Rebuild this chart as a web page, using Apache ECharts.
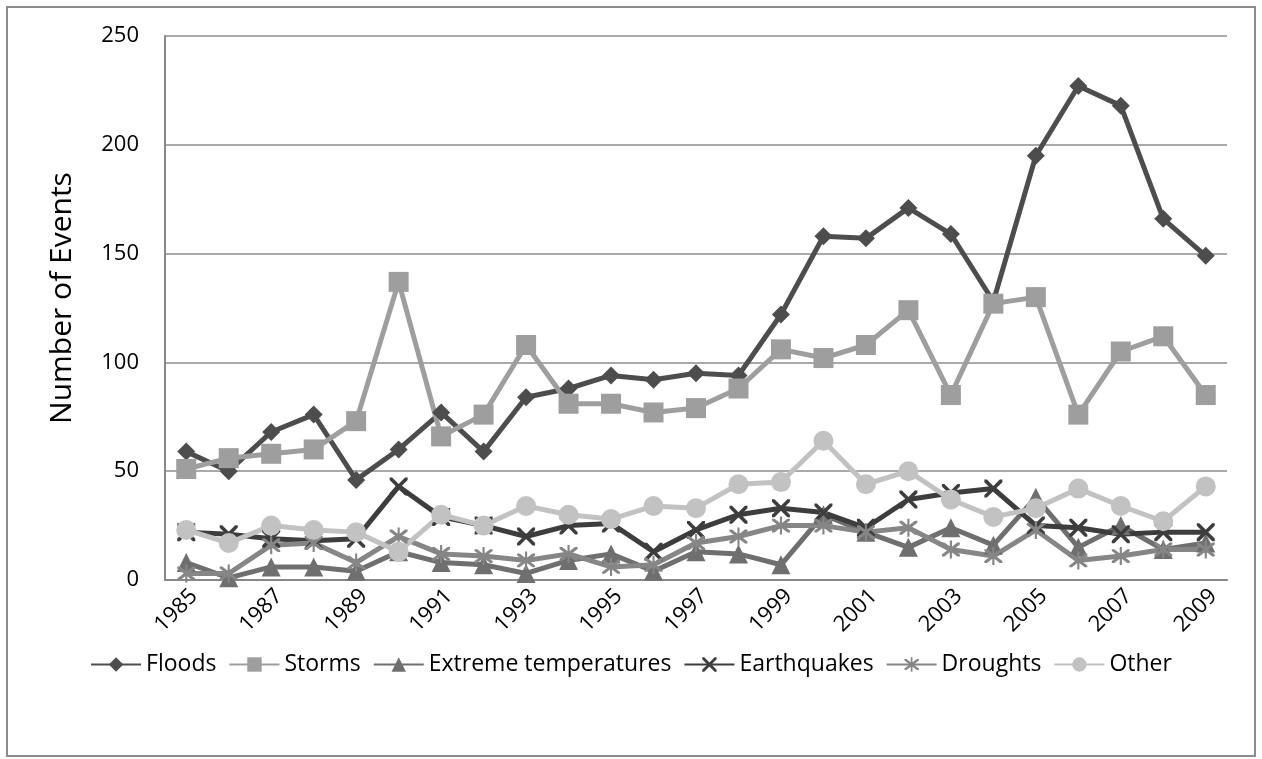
<!DOCTYPE html>
<html>
<head>
<meta charset="utf-8">
<script src="https://cdn.jsdelivr.net/npm/echarts@6/dist/echarts.min.js"></script>
<style>
  html, body { margin: 0; padding: 0; background: #fff; }
  #chart { width: 1262px; height: 759px; }
</style>
</head>
<body>
<div id="chart"></div>
<script>
const YEARS = ['1985','1986','1987','1988','1989','1990','1991','1992','1993','1994','1995','1996',
  '1997','1998','1999','2000','2001','2002','2003','2004','2005','2006','2007','2008','2009']

const FLOODS     = [59, 50, 68, 76, 46, 60, 77, 59, 84, 88, 94, 92, 95, 94, 122, 158, 157, 171, 159, 128, 195, 227, 218, 166, 149]
const STORMS     = [51, 56, 58, 60, 73, 137, 66, 76, 108, 81, 81, 77, 79, 88, 106, 102, 108, 124, 85, 127, 130, 76, 105, 112, 85]
const EXTREME    = [8, 1, 6, 6, 4, 13, 8, 7, 3, 9, 12, 4, 13, 12, 7, 30, 22, 15, 24, 16, 38, 15, 25, 14, 17]
const EARTHQUAKE = [22, 21, 19, 18, 19, 43, 29, 25, 20, 25, 26, 13, 23, 30, 33, 31, 24, 37, 40, 42, 25, 24, 21, 22, 22]
const DROUGHTS   = [3, 3, 16, 17, 8, 20, 12, 11, 9, 12, 6, 7, 17, 20, 25, 25, 22, 24, 14, 11, 23, 9, 11, 14, 14]
const OTHER      = [23, 17, 25, 23, 22, 13, 30, 25, 34, 30, 28, 34, 33, 44, 45, 64, 44, 50, 37, 29, 33, 42, 34, 27, 43]

const FONT = '"Open Sans", "Liberation Sans", sans-serif'

// filled outlines so the markers read as strokes
const X_PATH = 'path://M0,0 L1.4,0 L10,8.6 L10,10 L8.6,10 L0,1.4 Z M10,0 L10,1.4 L1.4,10 L0,10 L0,8.6 L8.6,0 Z'
const STAR_PATH = 'path://M0,0 L1.4,0 L10,8.6 L10,10 L8.6,10 L0,1.4 Z M10,0 L10,1.4 L1.4,10 L0,10 L0,8.6 L8.6,0 Z M4.4,-1.5 L5.6,-1.5 L5.6,11.5 L4.4,11.5 Z'

function line(name, data, color, symbol, size) {
  return {
    name,
    type: 'line',
    data,
    symbol,
    symbolSize: size,
    lineStyle: { color, width: 5 },
    itemStyle: { color, borderWidth: 0 },
    emphasis: { disabled: true },
  }
}

const chart = echarts.init(document.getElementById('chart'), null, { renderer: 'canvas' })

chart.setOption({
  animation: false,
  backgroundColor: '#fff',
  textStyle: { fontFamily: FONT },
  graphic: [{
    type: 'rect',
    silent: true,
    shape: { x: 7, y: 7, width: 1248, height: 749 },
    style: { fill: 'none', stroke: '#8c8c8c', lineWidth: 2 },
  }],
  grid: { left: 165, right: 35, top: 36, bottom: 179 },
  legend: {
    top: 648,
    left: 'center',
    itemWidth: 50,
    itemHeight: 18,
    itemGap: 12,
    textStyle: { fontFamily: FONT, fontSize: 23, color: '#000' },
    data: ['Floods', 'Storms', 'Extreme temperatures', 'Earthquakes', 'Droughts', 'Other'],
  },
  xAxis: {
    type: 'category',
    data: YEARS,
    boundaryGap: true,
    axisLine: { show: true, lineStyle: { color: '#888', width: 2 } },
    axisTick: { show: false },
    axisLabel: {
      interval: 1,
      rotate: 45,
      verticalAlign: 'top',
      color: '#000',
      fontFamily: FONT,
      fontSize: 22,
      margin: 5,
    },
    splitLine: { show: false },
  },
  yAxis: {
    type: 'value',
    min: 0,
    max: 250,
    interval: 50,
    name: 'Number of Events',
    nameLocation: 'middle',
    nameGap: 88,
    nameTextStyle: { fontFamily: FONT, fontSize: 30, color: '#000', padding: [0, 0, 0, 20] },
    axisLine: { show: true, lineStyle: { color: '#888', width: 2 } },
    axisTick: { show: false },
    axisLabel: { color: '#000', fontFamily: FONT, fontSize: 22, margin: 26 },
    splitLine: { lineStyle: { color: '#8c8c8c', width: 1.5 } },
  },
  series: [
    line('Floods', FLOODS, '#4d4d4d', 'diamond', 18),
    line('Storms', STORMS, '#9e9e9e', 'rect', 20),
    line('Extreme temperatures', EXTREME, '#6f6f6f', 'triangle', 19),
    line('Earthquakes', EARTHQUAKE, '#3d3d3d', X_PATH, 18),
    line('Droughts', DROUGHTS, '#868686', STAR_PATH, 18),
    line('Other', OTHER, '#c2c2c2', 'circle', 20),
  ],
})
</script>
</body>
</html>
